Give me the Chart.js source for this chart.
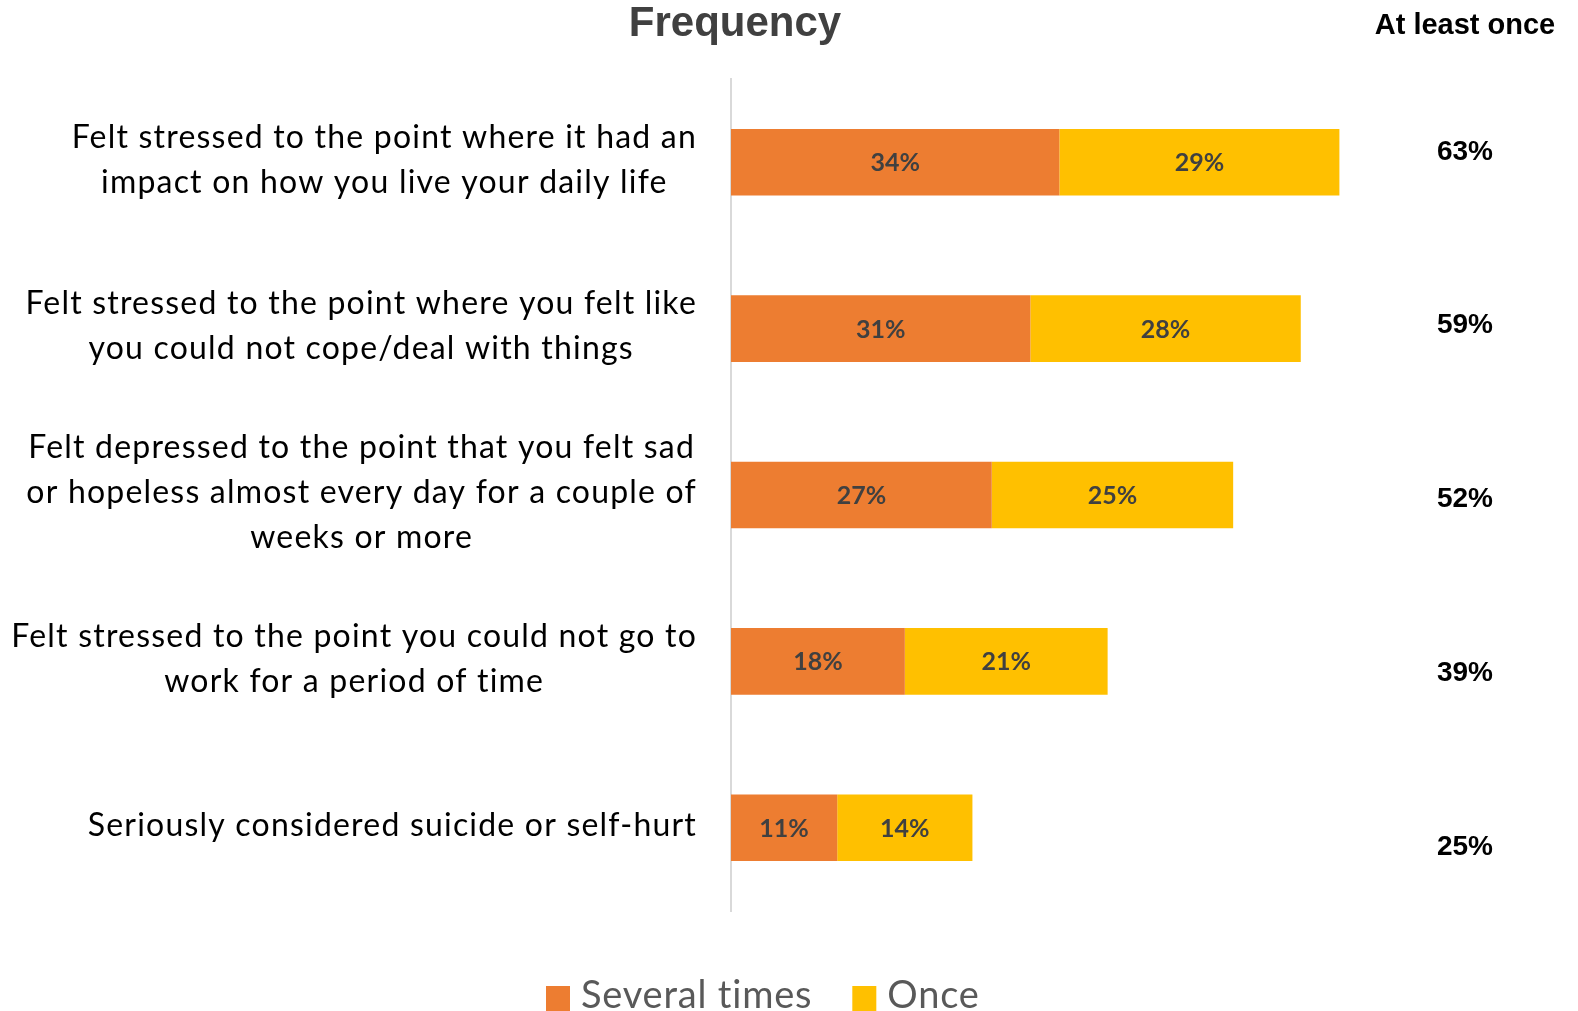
<!DOCTYPE html>
<html>
<head>
<meta charset="utf-8">
<script src="https://cdn.jsdelivr.net/npm/chart.js@4.4.0/dist/chart.umd.min.js"></script>
<style>
  html, body { margin: 0; padding: 0; background: #fff; overflow: hidden; }
  #wrap { width: 1578px; height: 1011px; }
</style>
</head>
<body>
<div id="wrap"><canvas id="chart" width="1578" height="1011"></canvas></div>
<script>
// categories (one array of lines per bar)
const categories = [
  ['Felt stressed to the point where it had an', 'impact on how you live your daily life'],
  ['Felt stressed to the point where you felt like', 'you could not cope/deal with things'],
  ['Felt depressed to the point that you felt sad', 'or hopeless almost every day for a couple of', 'weeks or more'],
  ['Felt stressed to the point you could not go to', 'work for a period of time'],
  ['Seriously considered suicide or self-hurt']
];
const severalTimes = [34, 31, 27, 18, 11];
const once = [29, 28, 25, 21, 14];
const seriesNames = ['Several times', 'Once'];
const seriesColors = ['#ED7D31', '#FFC000'];

const chartTitle = 'Frequency';
const sideHeader = 'At least once';

const labelFont = 'Lato';
const boldFont = '"Liberation Sans", Arial, sans-serif';

// texts drawn around the plot: labels, data labels, side column, legend
const decor = {
  id: 'decor',
  afterDatasetsDraw(chart) {
    const ctx = chart.ctx;
    ctx.save();
    ctx.font = 'bold 25px Lato';
    ctx.fillStyle = '#404040';
    ctx.textAlign = 'center';
    ctx.textBaseline = 'middle';
    chart.data.datasets.forEach((ds, di) => {
      chart.getDatasetMeta(di).data.forEach((bar, i) => {
        const cx = (bar.x + bar.base) / 2;
        ctx.fillText(ds.data[i] + '%', cx, bar.y + 1);
      });
    });
    ctx.restore();
  },
  afterDraw(chart) {
    const ctx = chart.ctx;
    const area = chart.chartArea;
    const yScale = chart.scales.y;
    ctx.save();

    // title
    ctx.font = 'bold 42px ' + boldFont;
    ctx.fillStyle = '#404040';
    ctx.textAlign = 'center';
    ctx.textBaseline = 'middle';
    ctx.fillText(chartTitle, 735, 24);

    // right-hand column
    ctx.font = 'bold 29px ' + boldFont;
    ctx.fillStyle = '#000';
    ctx.fillText(sideHeader, 1465, 26);
    ctx.font = 'bold 28px ' + boldFont;
    severalTimes.forEach((v, i) => {
      ctx.fillText((v + once[i]) + '%', 1465, 152 + i * 173.7);
    });

    // category labels: each block right aligned, lines centred within it
    ctx.font = '32px ' + labelFont;
    ctx.letterSpacing = '1.2px';
    ctx.fillStyle = '#000';
    const lineH = 45;
    categories.forEach((lines, i) => {
      const widest = Math.max(...lines.map(l => ctx.measureText(l).width));
      const cx = area.left - 34 - widest / 2;
      const cy = yScale.getPixelForValue(i) - 2;
      lines.forEach((l, k) => {
        ctx.fillText(l, cx, cy + (k - (lines.length - 1) / 2) * lineH);
      });
    });

    // legend
    ctx.font = '38px ' + labelFont;
    ctx.letterSpacing = '0.8px';
    ctx.textAlign = 'left';
    ctx.textBaseline = 'alphabetic';
    let x = 546;
    chart.data.datasets.forEach(ds => {
      ctx.fillStyle = ds.backgroundColor;
      ctx.fillRect(x, 986, 24, 25);
      ctx.fillStyle = '#595959';
      ctx.fillText(ds.label, x + 35, 1008);
      x += 35 + ctx.measureText(ds.label).width + 40;
    });

    ctx.restore();
  }
};

new Chart(document.getElementById('chart'), {
  type: 'bar',
  data: {
    labels: categories,
    datasets: [
      { label: seriesNames[0], data: severalTimes, backgroundColor: seriesColors[0] },
      { label: seriesNames[1], data: once, backgroundColor: seriesColors[1] }
    ]
  },
  options: {
    indexAxis: 'y',
    responsive: false,
    animation: false,
    layout: { padding: { left: 731, right: 171, top: 79, bottom: 100 } },
    datasets: { bar: { barPercentage: 1, categoryPercentage: 0.4, borderWidth: 0 } },
    scales: {
      x: { stacked: true, min: 0, max: 70, display: false },
      y: {
        stacked: true,
        grid: { display: false },
        ticks: { display: false },
        border: { color: '#D9D9D9', width: 2 },
        afterFit: s => { s.width = 0; }
      }
    },
    plugins: {
      legend: { display: false },
      title: { display: false },
      tooltip: { enabled: false }
    }
  },
  plugins: [decor]
});
</script>
</body>
</html>
